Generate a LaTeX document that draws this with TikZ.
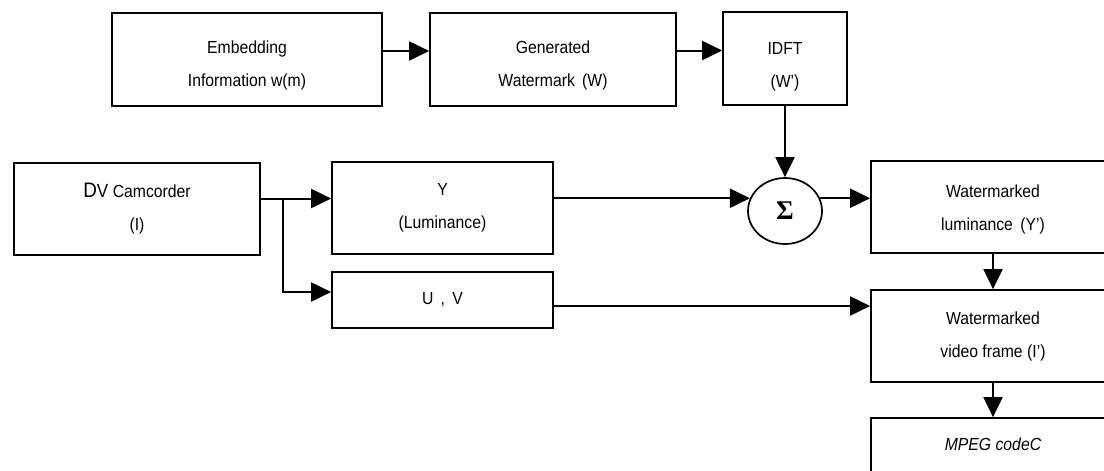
\documentclass[tikz,border=0pt]{standalone}
\usepackage{fontspec}
\setmainfont{Liberation Sans}[FakeStretch=0.9]
\newfontfamily\sigfont{Liberation Serif}
\newcommand{\lowerstrut}{\rule{0pt}{25pt}}
\usetikzlibrary{arrows.meta,shapes.geometric}
\tikzset{
  blk/.style={draw, line width=1.7pt, rectangle, inner sep=0pt, align=center,
    font=\fontsize{17.5}{33}\selectfont},
  arr/.style={line width=2pt, -{Triangle[length=20pt,width=19pt]}},
  ln/.style={line width=2pt}
}
\begin{document}
\begin{tikzpicture}[x=1pt,y=-1pt]
\clip (0,0) rectangle (1104,471);
\fill[white] (0,0) rectangle (1104,471);
% top row
\node[blk, minimum width=270pt, minimum height=93pt] (emb) at (247,59.5) {\lowerstrut Embedding\\Information w(m)};
\node[blk, minimum width=246pt, minimum height=93pt] (gen) at (553,59.5) {\lowerstrut Generated\\Watermark \,(W)};
\node[blk, minimum width=124pt, minimum height=93pt] (idft) at (785,58.5) {\rule{0pt}{29pt}IDFT\\(W')};
% middle
\node[blk, minimum width=246pt, minimum height=92pt] (dv) at (137,209) {{\fontsize{21}{33}\selectfont D}{\fontsize{19}{33}\selectfont V} Camcorder\\(I)};
\node[blk, minimum width=221pt, minimum height=92pt] (ylum) at (442.5,208) {Y\\(Luminance)};
\node[blk, minimum width=221pt, minimum height=56pt] (uv) at (442.5,300) {U \,, \,V};
\node[draw, line width=1.7pt, ellipse, minimum width=74pt, minimum height=66pt, inner sep=0pt,
  font=\sigfont\bfseries\fontsize{27}{27}\selectfont] (sig) at (785,211) {Σ};
% right column
\node[blk, minimum width=244pt, minimum height=92pt] (wlum) at (993,207) {\rule{0pt}{17pt}Watermarked\\luminance \,(Y')};
\node[blk, minimum width=244pt, minimum height=92pt] (wvf) at (993,336) {Watermarked\\video frame (I')};
\node[blk, minimum width=244pt, minimum height=62pt, text depth=0pt] (mpeg) at (993,449) {\raisebox{9pt}{\itshape MPEG codeC}};
\coordinate (br) at (283,198.5);
% connectors
\draw[arr] ([yshift=8.5pt]emb.east) -- ([yshift=8.5pt]gen.west);
\draw[arr] ([yshift=9pt]gen.east) -- ([yshift=9pt]gen.east -| idft.west);
\draw[arr] (idft.south) -- (sig.north);
\draw[ln] ([yshift=10.5pt]dv.east) -- (br);
\draw[arr] (br) -- ([yshift=9.5pt]ylum.west);
\draw[arr] (br) |- ([yshift=8pt]uv.west);
\draw[arr] (ylum.east |- sig.160) -- (sig.160);
\draw[arr] (sig.20) -- (sig.20 -| wlum.west);
\draw[arr] ([yshift=-6pt]uv.east) -- ([yshift=-6pt]uv.east -| wvf.west);
\draw[arr] (wlum.south) -- (wvf.north);
\draw[arr] (wvf.south) -- (mpeg.north);
\end{tikzpicture}
\end{document}
